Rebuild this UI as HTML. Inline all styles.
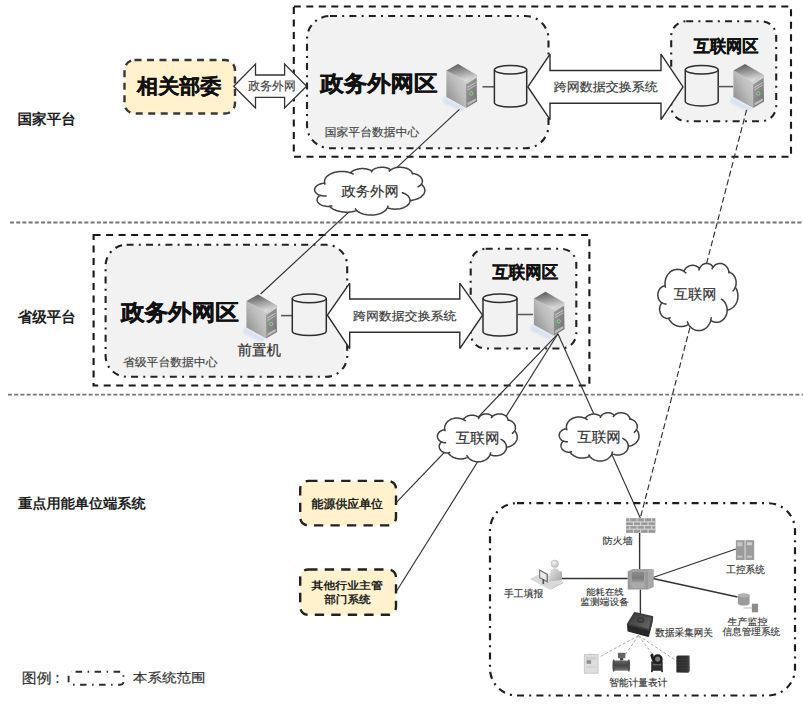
<!DOCTYPE html>
<html><head><meta charset="utf-8"><style>
html,body{margin:0;padding:0;background:#fff;}
svg{display:block;font-family:'Liberation Sans',sans-serif;text-rendering:geometricPrecision;}
text{font-family:'Liberation Sans',sans-serif;}
</style></head><body>
<svg width="803" height="706" viewBox="0 0 803 706">

<defs>
<linearGradient id="gL" x1="0" y1="1" x2="1" y2="0"><stop offset="0" stop-color="#858585"/><stop offset="0.55" stop-color="#bcbcbc"/><stop offset="1" stop-color="#d6d6d6"/></linearGradient>
<linearGradient id="gT" x1="0.3" y1="0" x2="0.6" y2="1"><stop offset="0" stop-color="#5a5a5a"/><stop offset="1" stop-color="#e2e2e2"/></linearGradient>
<linearGradient id="gR" x1="0" y1="0" x2="1" y2="1"><stop offset="0" stop-color="#a2a2a2"/><stop offset="1" stop-color="#6e6e6e"/></linearGradient>
<filter id="blr" x="-20%" y="-20%" width="140%" height="140%"><feGaussianBlur stdDeviation="0.9"/></filter>
<symbol id="srv" overflow="visible">
<polygon points="-2.5,32.5 20,45 15,47.5 -2.5,39" fill="#d8e2f0" filter="url(#blr)"/>
<polygon points="0.4,6.6 20,17.4 20.2,44 0.4,33" fill="url(#gL)"/>
<polygon points="0.4,6.6 12,0 30.6,10.8 20,17.4" fill="url(#gT)"/>
<polygon points="20,17.4 30.6,10.8 31,37.5 20.2,44" fill="url(#gR)"/>
<polygon points="20,17.4 30.6,10.8 30.7,13.8 20.1,20.4" fill="#d2d2d2"/>
<line x1="21.5" y1="23.5" x2="29.6" y2="18.6" stroke="#c4c4c4" stroke-width="1.1"/>
<line x1="21.5" y1="26" x2="29.6" y2="21.1" stroke="#bdbdbd" stroke-width="1.1"/>
<circle cx="25.3" cy="29.5" r="1.6" fill="#4aa04a" stroke="#cfe0cf" stroke-width="0.6"/>
<polygon points="21.5,39 29.8,34.2 29.8,36.8 21.5,41.6" fill="#bdbdbd"/>
</symbol>
<symbol id="fw" overflow="visible">
<rect x="0" y="0" width="29.3" height="14.7" fill="#9a9a9a"/>
<g stroke="#eee" stroke-width="0.8">
<line x1="0" y1="3.7" x2="29.3" y2="3.7"/><line x1="0" y1="7.35" x2="29.3" y2="7.35"/><line x1="0" y1="11" x2="29.3" y2="11"/>
<line x1="3.7" y1="0" x2="3.7" y2="3.7"/><line x1="11" y1="0" x2="11" y2="3.7"/><line x1="18.3" y1="0" x2="18.3" y2="3.7"/><line x1="25.6" y1="0" x2="25.6" y2="3.7"/>
<line x1="7.3" y1="3.7" x2="7.3" y2="7.35"/><line x1="14.6" y1="3.7" x2="14.6" y2="7.35"/><line x1="22" y1="3.7" x2="22" y2="7.35"/>
<line x1="3.7" y1="7.35" x2="3.7" y2="11"/><line x1="11" y1="7.35" x2="11" y2="11"/><line x1="18.3" y1="7.35" x2="18.3" y2="11"/><line x1="25.6" y1="7.35" x2="25.6" y2="11"/>
<line x1="7.3" y1="11" x2="7.3" y2="14.7"/><line x1="14.6" y1="11" x2="14.6" y2="14.7"/><line x1="22" y1="11" x2="22" y2="14.7"/>
</g>
</symbol>
<symbol id="dev" overflow="visible">
<linearGradient id="devP" x1="0" y1="0" x2="0" y2="1"><stop offset="0" stop-color="#8a8a8a"/><stop offset="0.6" stop-color="#7c7c7c"/><stop offset="1" stop-color="#9a9a9a"/></linearGradient>
<polygon points="0,2.2 5,0 26,0 20.3,2.2" fill="#a2a2a2"/>
<polygon points="20.3,2.2 26,0 26,18 20.3,20.5" fill="#a8a8a8"/>
<rect x="0" y="2.2" width="20.3" height="18.3" fill="#999"/>
<rect x="2.5" y="2.2" width="15.3" height="17" fill="#a3a3a3"/>
<rect x="4" y="3" width="12.3" height="10" fill="url(#devP)"/>
<rect x="4" y="13.5" width="12.3" height="5.5" fill="#aaa"/>
</symbol>
<symbol id="person" overflow="visible">
<radialGradient id="pH" cx="0.4" cy="0.35" r="0.7"><stop offset="0" stop-color="#f4f4f4"/><stop offset="1" stop-color="#b8b8b8"/></radialGradient>
<linearGradient id="pB" x1="0" y1="0" x2="1" y2="1"><stop offset="0" stop-color="#e6e6e6"/><stop offset="1" stop-color="#a8a8a8"/></linearGradient>
<polygon points="0.5,18.4 12.4,12.8 33.3,22.1 20.6,28.9" fill="#d9d9d9"/>
<polygon points="0.5,18.4 20.6,28.9 20.6,29.8 0.5,19.2" fill="#c4c4c4"/>
<polygon points="20.6,28.9 33.3,22.1 33.3,23 20.6,29.8" fill="#bdbdbd"/>
<rect x="29.4" y="11.5" width="2.6" height="9" fill="#b4b4b4"/>
<path d="M19.5,21.4 L19.5,14.7 Q20,9.3 24.75,7.9 Q29.6,8.8 30.7,14.7 L30.7,19.9 Z" fill="url(#pB)"/>
<circle cx="24.75" cy="3.8" r="3.7" fill="url(#pH)" stroke="#b0b0b0" stroke-width="0.5"/>
<polygon points="9.06,9.06 18,13.9 18,22.9 9.06,18" fill="#7e7e7e"/>
<polygon points="10.2,11.3 16.5,14.7 16.5,20.6 10.2,17.3" fill="#eaeaea"/>
<rect x="12.5" y="19" width="1.6" height="5" fill="#555"/>
</symbol>
<symbol id="rack" overflow="visible">
<rect x="0" y="0" width="8.8" height="19.8" fill="#9c9c9c"/>
<rect x="9.5" y="0" width="8.8" height="19.8" fill="#9c9c9c"/>
<rect x="1.5" y="2" width="5" height="4" fill="#c8c8c8"/>
<rect x="11" y="2" width="5" height="3" fill="#d0d0d0"/>
<rect x="1.5" y="15.5" width="5" height="2" fill="#c8c8c8"/>
<rect x="11" y="15.5" width="5" height="2" fill="#c8c8c8"/>
</symbol>
<symbol id="dbi" overflow="visible">
<path d="M0,2 L0,10 A5.85,2 0 0 0 11.7,10 L11.7,2 A5.85,2 0 0 0 0,2 Z" fill="#9a9a9a"/>
<ellipse cx="5.85" cy="2" rx="5.85" ry="2" fill="#b0b0b0"/>
<line x1="5.7" y1="14.5" x2="14" y2="14.5" stroke="#aaa" stroke-width="0.8"/>
<rect x="14" y="10.2" width="6.1" height="8.6" fill="#8c8c8c"/>
</symbol>
<symbol id="gw" overflow="visible">
<linearGradient id="gwT" x1="0" y1="0" x2="1" y2="1"><stop offset="0" stop-color="#333"/><stop offset="1" stop-color="#6e6e6e"/></linearGradient>
<polygon points="0.3,11.8 0.8,18.5 21,23.9 24.6,10 25,4.4 22.2,17.4" fill="#262626" stroke="#262626" stroke-width="1.2" stroke-linejoin="round"/>
<polygon points="7.4,0.6 25,4.6 22.2,17.4 0.5,11.8" fill="url(#gwT)" stroke="#3e3e3e" stroke-width="2" stroke-linejoin="round"/>
<ellipse cx="13.4" cy="7.5" rx="3.3" ry="2.3" fill="#4a4a4a" stroke="#2a2a2a" stroke-width="0.9"/>
</symbol>
<symbol id="m1" overflow="visible">
<rect x="4.8" y="0" width="2.4" height="1.5" fill="#c4c4c4"/>
<rect x="0.3" y="1" width="13.8" height="18.6" fill="#dedede" stroke="#c2c2c2" stroke-width="0.8"/>
<rect x="2" y="3.3" width="10.2" height="3" fill="#cfcfcf"/>
<rect x="2.6" y="6.6" width="4.5" height="3.6" fill="#8e8e8e"/>
<rect x="2" y="13" width="10.2" height="0.8" fill="#c8c8c8"/>
</symbol>
<symbol id="m2" overflow="visible">
<linearGradient id="m2g" x1="0" y1="0" x2="0" y2="1"><stop offset="0" stop-color="#666"/><stop offset="0.5" stop-color="#444"/><stop offset="1" stop-color="#777"/></linearGradient>
<rect x="5.6" y="0.3" width="7.4" height="5.4" fill="#666"/>
<rect x="7.6" y="5.6" width="3.2" height="2.4" fill="#3e3e3e"/>
<rect x="1" y="8" width="16" height="10.2" fill="url(#m2g)"/>
<ellipse cx="1.3" cy="13" rx="1.3" ry="6.3" fill="#4e4e4e"/>
<ellipse cx="16.4" cy="13" rx="1.3" ry="6.3" fill="#4e4e4e"/>
</symbol>
<symbol id="m3" overflow="visible">
<rect x="1.5" y="8.5" width="11.5" height="9.5" fill="#2e2e2e"/>
<rect x="1.3" y="17" width="1.8" height="2.3" fill="#333"/>
<rect x="11.5" y="17" width="1.8" height="2.3" fill="#333"/>
<rect x="3" y="11" width="8.5" height="1.5" fill="#666"/>
<circle cx="8" cy="6.5" r="5" fill="#1e1e1e"/>
<circle cx="8" cy="6.3" r="2.6" fill="#7a7a7a"/>
<path d="M0.6,2.2 Q2,-0.3 3.6,1.2 L4.5,7 L2.5,8.5 Z" fill="#1e1e1e"/>
</symbol>
<symbol id="m4" overflow="visible">
<linearGradient id="m4g" x1="0" y1="0" x2="1" y2="0"><stop offset="0" stop-color="#2a2a2a"/><stop offset="0.8" stop-color="#333"/><stop offset="1" stop-color="#555"/></linearGradient>
<polygon points="0,1.3 1.5,0.3 13.2,0.3 13.4,15.8 12,17.4 0,17.1" fill="url(#m4g)"/>
<g stroke="#444" stroke-width="0.5"><line x1="1" y1="4" x2="11.5" y2="4"/><line x1="1" y1="7" x2="11.5" y2="7"/><line x1="1" y1="10" x2="11.5" y2="10"/><line x1="1" y1="13" x2="11.5" y2="13"/></g>
</symbol>
</defs>

<line x1="10" y1="222.5" x2="803" y2="222.5" stroke="#777" stroke-width="1.8" stroke-dasharray="4 2.2"/>
<line x1="8" y1="394.6" x2="803" y2="394.6" stroke="#777" stroke-width="1.8" stroke-dasharray="4 2.2"/>
<text id="t0" x="18" y="125" font-size="14" font-weight="bold" fill="#1e1e1e" stroke="#1e1e1e" stroke-width="0" text-anchor="start" transform="matrix(1.0428,0,0,1.0320,-1.281,-5.149)" >国家平台</text>
<text id="t1" x="18" y="323" font-size="14" font-weight="bold" fill="#1e1e1e" stroke="#1e1e1e" stroke-width="0" text-anchor="start" transform="matrix(1.0362,0,0,1.0677,-0.865,-22.654)" >省级平台</text>
<text id="t2" x="18" y="509.5" font-size="14" font-weight="bold" fill="#1e1e1e" stroke="#1e1e1e" stroke-width="0" text-anchor="start" transform="matrix(1.0110,0,0,0.9680,0.013,14.970)" >重点用能单位端系统</text>
<rect x="293.8" y="6.5" width="497.2" height="150.3" fill="none" stroke="#1a1a1a" stroke-width="2.1" stroke-dasharray="7 5.5"/>
<rect x="307" y="16" width="241.5" height="132.3" rx="23" fill="#f2f2f2" stroke="#222" stroke-width="2.1" stroke-dasharray="7 5.2 2 5.2"/>
<rect x="671.2" y="21.2" width="105" height="100" rx="15" fill="#f2f2f2" stroke="#222" stroke-width="2.1" stroke-dasharray="7 5.2 2 5.2"/>
<rect x="124.5" y="60" width="110.5" height="53.5" rx="10" fill="#fff2cc" stroke="#383838" stroke-width="2.4" stroke-dasharray="7 5.5"/>
<text id="t3" x="179.5" y="94" font-size="21" font-weight="bold" fill="#111" stroke="#111" stroke-width="0.378" text-anchor="middle" transform="matrix(1.0010,0,0,0.9534,-0.523,3.429)" >相关部委</text>
<path d="M233.8,86.3 L255.5,64.1 L255.5,75 L284.6,75 L284.6,64.1 L306.6,86.3 L284.6,108 L284.6,97.3 L255.5,97.3 L255.5,108 Z" fill="#fff" stroke="#333" stroke-width="1.3"/>
<text id="t4" x="272" y="91.5" font-size="11.5" font-weight="normal" fill="#444" stroke="#444" stroke-width="0.161" text-anchor="middle" transform="matrix(1.0312,0,0,1.0512,-8.448,-5.933)" >政务外网</text>
<text id="t5" x="320.5" y="94" font-size="23.4" font-weight="bold" fill="#111" stroke="#111" stroke-width="0.421" text-anchor="start" transform="matrix(1.0041,0,0,0.9385,-1.650,2.984)" >政务外网区</text>
<text id="t6" x="325" y="137" font-size="11.5" font-weight="normal" fill="#444" stroke="#444" stroke-width="0.161" text-anchor="start" transform="matrix(1.0291,0,0,0.9928,-9.781,0.025)" >国家平台数据中心</text>
<use href="#srv" transform="translate(446,64) scale(1.0)"/>
<line x1="482.5" y1="86.8" x2="494.4" y2="86.8" stroke="#555" stroke-width="1.5"/>
<path d="M494.4,69.7 L494.4,102.7 A16.15,4.3 0 0 0 526.6999999999999,102.7 L526.6999999999999,69.7" fill="none" stroke="#2e2e2e" stroke-width="1.5"/>
<ellipse cx="510.54999999999995" cy="69.7" rx="16.15" ry="4.3" fill="none" stroke="#2e2e2e" stroke-width="1.5"/>
<path d="M527.9,86.9 L550,54.1 L550,70.5 L661,70.5 L661,54.1 L683,86.9 L661,119.7 L661,103.3 L550,103.3 L550,119.7 Z" fill="#fff" stroke="#2e2e2e" stroke-width="1.4" stroke-linejoin="miter" stroke-miterlimit="1.5"/>
<text id="t7" x="606.2" y="91.5" font-size="13" font-weight="normal" fill="#3a3a3a" stroke="#3a3a3a" stroke-width="0.182" text-anchor="middle" transform="matrix(1.0013,0,0,0.9373,-1.275,5.014)" >跨网数据交换系统</text>
<text id="t8" x="726" y="53" font-size="16.5" font-weight="bold" fill="#111" stroke="#111" stroke-width="0.297" text-anchor="middle" transform="matrix(0.9844,0,0,1.0475,11.449,-3.343)" >互联网区</text>
<path d="M685.3,69.7 L685.3,101.60000000000001 A16.45,4.3 0 0 0 718.1999999999999,101.60000000000001 L718.1999999999999,69.7" fill="none" stroke="#2e2e2e" stroke-width="1.5"/>
<ellipse cx="701.75" cy="69.7" rx="16.45" ry="4.3" fill="none" stroke="#2e2e2e" stroke-width="1.5"/>
<line x1="718.2" y1="86.6" x2="733" y2="86.6" stroke="#555" stroke-width="1.5"/>
<use href="#srv" transform="translate(733,64) scale(1.0)"/>
<rect x="93.6" y="235" width="495.8" height="150.5" fill="none" stroke="#1a1a1a" stroke-width="2.1" stroke-dasharray="7 5.5"/>
<rect x="105.6" y="244.8" width="241.6" height="131.9" rx="21" fill="#f2f2f2" stroke="#222" stroke-width="2.1" stroke-dasharray="7 5.2 2 5.2"/>
<rect x="470.7" y="248.8" width="105.6" height="99.7" rx="15" fill="#f2f2f2" stroke="#222" stroke-width="2.1" stroke-dasharray="7 5.2 2 5.2"/>
<text id="t9" x="120.8" y="321.6" font-size="23.4" font-weight="bold" fill="#111" stroke="#111" stroke-width="0.421" text-anchor="start" transform="matrix(1.0075,0,0,0.9564,-0.741,11.944)" >政务外网区</text>
<text id="t10" x="123.5" y="365.5" font-size="11.3" font-weight="normal" fill="#444" stroke="#444" stroke-width="0.158" text-anchor="start" transform="matrix(1.0482,0,0,1.0082,-6.552,-2.955)" >省级平台数据中心</text>
<use href="#srv" transform="translate(246,294.5) scale(1.0)"/>
<text id="t11" x="259.5" y="355" font-size="14" font-weight="normal" fill="#333" stroke="#333" stroke-width="0.196" text-anchor="middle" transform="matrix(1.0381,0,0,1.0209,-10.183,-7.608)" >前置机</text>
<line x1="281" y1="315.6" x2="292.3" y2="315.6" stroke="#555" stroke-width="1.5"/>
<path d="M292.3,298.40000000000003 L292.3,331.3 A17.0,4.3 0 0 0 326.3,331.3 L326.3,298.40000000000003" fill="none" stroke="#2e2e2e" stroke-width="1.5"/>
<ellipse cx="309.3" cy="298.40000000000003" rx="17.0" ry="4.3" fill="none" stroke="#2e2e2e" stroke-width="1.5"/>
<path d="M327.4,315.2 L349.7,283.2 L349.7,299 L459.8,299 L459.8,283.2 L482.5,315.2 L459.8,348.6 L459.8,332.2 L349.7,332.2 L349.7,348.6 Z" fill="#fff" stroke="#2e2e2e" stroke-width="1.4" stroke-linejoin="miter" stroke-miterlimit="1.5"/>
<text id="t12" x="405.3" y="320.5" font-size="13" font-weight="normal" fill="#3a3a3a" stroke="#3a3a3a" stroke-width="0.182" text-anchor="middle" transform="matrix(0.9959,0,0,0.9046,1.093,29.607)" >跨网数据交换系统</text>
<text id="t13" x="525.2" y="280" font-size="16.5" font-weight="bold" fill="#111" stroke="#111" stroke-width="0.297" text-anchor="middle" transform="matrix(0.9935,0,0,1.0449,3.489,-14.625)" >互联网区</text>
<path d="M483,298.3 L483,331.7 A17.0,4.3 0 0 0 517,331.7 L517,298.3" fill="none" stroke="#2e2e2e" stroke-width="1.5"/>
<ellipse cx="500.0" cy="298.3" rx="17.0" ry="4.3" fill="none" stroke="#2e2e2e" stroke-width="1.5"/>
<line x1="517" y1="314.5" x2="533" y2="314.5" stroke="#555" stroke-width="1.5"/>
<use href="#srv" transform="translate(533.5,291.8) scale(1.0)"/>
<line x1="459.5" y1="109.3" x2="260.6" y2="294" stroke="#333" stroke-width="1.15"/>
<line x1="746.6" y1="109.8" x2="640.3" y2="518" stroke="#333" stroke-width="1.15" stroke-dasharray="6 3"/>
<line x1="557.9" y1="333.8" x2="396" y2="502.8" stroke="#333" stroke-width="1.15"/>
<line x1="557.9" y1="333.8" x2="396" y2="592" stroke="#333" stroke-width="1.15"/>
<line x1="557.9" y1="333.8" x2="640.3" y2="518" stroke="#333" stroke-width="1.15"/>
<path d="M324.6,183.0 L324.5,182.1 L324.5,181.1 L324.7,180.2 L325.0,179.2 L325.4,178.3 L326.0,177.4 L326.7,176.6 L327.6,175.8 L328.6,175.1 L329.7,174.4 L330.9,173.7 L332.1,173.2 L333.5,172.7 L335.0,172.3 L336.5,171.9 L338.0,171.7 L339.6,171.5 L341.2,171.5 L342.8,171.5 L344.4,171.6 L346.0,171.8 L347.5,172.1 L349.0,172.4 L350.4,172.9 L350.9,172.3 L351.5,171.8 L352.2,171.3 L352.9,170.9 L353.7,170.5 L354.5,170.1 L355.4,169.7 L356.3,169.4 L357.3,169.2 L358.3,169.0 L359.3,168.8 L360.3,168.7 L361.4,168.6 L362.4,168.6 L363.5,168.6 L364.5,168.7 L365.6,168.8 L366.6,169.0 L367.6,169.2 L368.5,169.4 L369.4,169.8 L370.3,170.1 L371.2,170.5 L371.9,170.9 L372.4,170.4 L372.9,169.9 L373.5,169.5 L374.1,169.1 L374.8,168.7 L375.6,168.4 L376.4,168.1 L377.2,167.9 L378.1,167.6 L379.0,167.5 L379.9,167.4 L380.8,167.3 L381.8,167.3 L382.7,167.3 L383.6,167.3 L384.6,167.4 L385.5,167.6 L386.3,167.8 L387.2,168.1 L388.0,168.3 L388.8,168.7 L389.5,169.0 L390.1,169.4 L390.7,169.8 L391.5,169.3 L392.4,168.9 L393.3,168.5 L394.3,168.1 L395.4,167.8 L396.5,167.6 L397.6,167.4 L398.8,167.3 L399.9,167.3 L401.1,167.3 L402.2,167.4 L403.4,167.5 L404.5,167.7 L405.6,168.0 L406.6,168.3 L407.6,168.7 L408.5,169.1 L409.3,169.6 L410.0,170.2 L410.7,170.7 L411.3,171.3 L411.7,171.9 L412.1,172.6 L412.4,173.3 L413.3,173.4 L414.2,173.6 L415.1,173.9 L415.9,174.2 L416.7,174.5 L417.5,174.8 L418.2,175.2 L418.9,175.6 L419.5,176.1 L420.1,176.5 L420.6,177.0 L421.0,177.5 L421.4,178.1 L421.7,178.6 L422.0,179.2 L422.2,179.7 L422.3,180.3 L422.4,180.9 L422.4,181.4 L422.3,182.0 L422.1,182.6 L421.9,183.1 L421.6,183.7 L421.3,184.2 L422.1,184.9 L422.9,185.7 L423.5,186.5 L424.0,187.3 L424.4,188.2 L424.7,189.1 L424.8,189.9 L424.8,190.8 L424.7,191.7 L424.5,192.6 L424.1,193.4 L423.6,194.3 L423.0,195.1 L422.2,195.8 L421.4,196.6 L420.4,197.3 L419.4,197.9 L418.2,198.5 L417.0,199.0 L415.7,199.4 L414.3,199.8 L412.9,200.1 L411.5,200.4 L410.0,200.5 L410.0,201.3 L409.8,202.0 L409.5,202.8 L409.1,203.5 L408.6,204.2 L407.9,204.9 L407.2,205.6 L406.4,206.2 L405.5,206.7 L404.5,207.2 L403.5,207.7 L402.4,208.1 L401.2,208.4 L400.0,208.7 L398.8,208.9 L397.5,209.1 L396.2,209.1 L394.9,209.2 L393.6,209.1 L392.3,209.0 L391.0,208.8 L389.8,208.5 L388.6,208.2 L387.5,207.8 L386.9,208.7 L386.3,209.6 L385.4,210.4 L384.5,211.2 L383.4,211.9 L382.3,212.6 L381.0,213.2 L379.6,213.7 L378.2,214.1 L376.7,214.5 L375.1,214.8 L373.5,215.0 L371.9,215.1 L370.3,215.1 L368.7,215.0 L367.1,214.8 L365.5,214.5 L364.0,214.2 L362.6,213.8 L361.2,213.3 L359.9,212.7 L358.7,212.0 L357.7,211.3 L356.7,210.5 L355.6,210.9 L354.4,211.3 L353.2,211.5 L351.9,211.8 L350.7,212.0 L349.4,212.1 L348.1,212.2 L346.8,212.2 L345.5,212.2 L344.2,212.1 L342.9,212.0 L341.6,211.8 L340.4,211.6 L339.1,211.3 L337.9,211.0 L336.8,210.7 L335.7,210.3 L334.6,209.8 L333.6,209.3 L332.7,208.8 L331.8,208.2 L330.9,207.6 L330.2,207.0 L329.5,206.3 L328.4,206.4 L327.2,206.4 L326.1,206.3 L325.0,206.1 L324.0,205.9 L322.9,205.6 L322.0,205.3 L321.1,204.9 L320.2,204.4 L319.5,203.9 L318.8,203.4 L318.3,202.8 L317.8,202.2 L317.5,201.6 L317.2,200.9 L317.1,200.2 L317.1,199.6 L317.2,198.9 L317.4,198.3 L317.7,197.6 L318.2,197.0 L318.7,196.4 L319.4,195.9 L320.1,195.4 L319.1,195.0 L318.2,194.6 L317.4,194.1 L316.7,193.5 L316.1,193.0 L315.5,192.3 L315.1,191.7 L314.8,191.0 L314.7,190.3 L314.6,189.7 L314.7,189.0 L314.9,188.3 L315.2,187.6 L315.6,187.0 L316.1,186.4 L316.7,185.8 L317.5,185.3 L318.3,184.8 L319.2,184.4 L320.2,184.0 L321.2,183.7 L322.3,183.4 L323.4,183.3 L324.5,183.1Z" fill="#fff" stroke="#404040" stroke-width="1.5"/>
<path d="M326.7,196.1 L326.0,196.1 L325.3,196.1 L324.6,196.0 L324.0,196.0 L323.3,195.9 L322.7,195.8 L322.0,195.7 L321.4,195.5 L320.8,195.4 L320.2,195.2M332.4,205.7 L332.1,205.8 L331.8,205.8 L331.5,205.9 L331.3,205.9 L331.0,206.0 L330.7,206.0 L330.4,206.1 L330.1,206.1 L329.8,206.1 L329.5,206.1M356.7,210.4 L356.5,210.2 L356.3,210.0 L356.1,209.8 L355.9,209.6 L355.8,209.4 L355.6,209.2 L355.4,209.0 L355.3,208.8 L355.1,208.6 L355.0,208.4M388.2,205.6 L388.1,205.8 L388.1,206.0 L388.0,206.2 L388.0,206.4 L387.9,206.6 L387.9,206.8 L387.8,207.0 L387.7,207.2 L387.6,207.5 L387.5,207.7M401.7,192.5 L403.1,193.0 L404.5,193.5 L405.7,194.2 L406.8,194.9 L407.8,195.7 L408.6,196.6 L409.2,197.5 L409.6,198.4 L409.9,199.4 L410.0,200.4M421.2,184.1 L421.0,184.4 L420.7,184.8 L420.4,185.1 L420.0,185.4 L419.7,185.7 L419.3,186.0 L418.9,186.3 L418.5,186.5 L418.0,186.8 L417.5,187.0M412.4,173.1 L412.4,173.2 L412.4,173.4 L412.5,173.5 L412.5,173.7 L412.5,173.8 L412.5,173.9 L412.6,174.1 L412.6,174.2 L412.6,174.4 L412.6,174.5M388.8,171.5 L389.0,171.3 L389.1,171.1 L389.3,170.9 L389.5,170.7 L389.6,170.5 L389.8,170.4 L390.0,170.2 L390.3,170.0 L390.5,169.9 L390.7,169.7M371.1,172.3 L371.2,172.2 L371.3,172.0 L371.3,171.8 L371.4,171.7 L371.5,171.5 L371.6,171.4 L371.7,171.2 L371.8,171.1 L371.9,170.9 L372.0,170.8M350.4,172.8 L350.7,173.0 L351.1,173.1 L351.4,173.2 L351.8,173.4 L352.1,173.5 L352.4,173.7 L352.8,173.8 L353.1,174.0 L353.4,174.2 L353.7,174.3M325.2,184.6 L325.1,184.4 L325.1,184.3 L325.0,184.1 L324.9,183.9 L324.9,183.8 L324.8,183.6 L324.8,183.5 L324.7,183.3 L324.7,183.2 L324.6,183.0" fill="none" stroke="#404040" stroke-width="1.5"/>
<text id="t14" x="370" y="197" font-size="14" font-weight="normal" fill="#333" stroke="#333" stroke-width="0.196" text-anchor="middle" transform="matrix(1.0238,0,0,0.9920,-8.763,0.744)" >政务外网</text>
<path d="M665.1,285.6 L665.0,284.2 L665.0,282.9 L665.1,281.6 L665.4,280.3 L665.7,279.0 L666.1,277.7 L666.6,276.6 L667.3,275.4 L668.0,274.4 L668.8,273.4 L669.6,272.5 L670.6,271.7 L671.6,271.0 L672.6,270.5 L673.7,270.0 L674.8,269.7 L676.0,269.4 L677.2,269.3 L678.3,269.4 L679.5,269.5 L680.6,269.8 L681.7,270.2 L682.8,270.7 L683.8,271.3 L684.2,270.5 L684.7,269.8 L685.1,269.1 L685.7,268.5 L686.2,267.9 L686.8,267.4 L687.5,266.9 L688.2,266.5 L688.8,266.1 L689.6,265.8 L690.3,265.6 L691.1,265.4 L691.8,265.3 L692.6,265.3 L693.3,265.3 L694.1,265.4 L694.9,265.6 L695.6,265.8 L696.3,266.1 L697.0,266.5 L697.7,266.9 L698.3,267.4 L698.9,267.9 L699.5,268.5 L699.8,267.9 L700.2,267.2 L700.6,266.6 L701.1,266.0 L701.6,265.5 L702.1,265.0 L702.7,264.6 L703.3,264.3 L704.0,264.0 L704.6,263.7 L705.3,263.6 L706.0,263.5 L706.6,263.4 L707.3,263.4 L708.0,263.5 L708.7,263.7 L709.3,263.9 L710.0,264.2 L710.6,264.5 L711.2,264.9 L711.7,265.4 L712.2,265.9 L712.7,266.5 L713.1,267.1 L713.7,266.4 L714.4,265.7 L715.0,265.1 L715.8,264.6 L716.5,264.2 L717.3,263.9 L718.1,263.7 L719.0,263.5 L719.8,263.4 L720.7,263.5 L721.5,263.6 L722.3,263.8 L723.1,264.1 L723.9,264.5 L724.7,264.9 L725.4,265.5 L726.0,266.1 L726.6,266.8 L727.2,267.5 L727.7,268.3 L728.1,269.1 L728.4,270.0 L728.7,270.9 L728.9,271.9 L729.5,272.1 L730.2,272.4 L730.8,272.8 L731.4,273.1 L732.0,273.6 L732.6,274.1 L733.1,274.6 L733.6,275.2 L734.0,275.8 L734.5,276.5 L734.8,277.2 L735.2,277.9 L735.4,278.6 L735.7,279.4 L735.9,280.1 L736.0,280.9 L736.1,281.7 L736.1,282.5 L736.1,283.3 L736.1,284.1 L736.0,284.9 L735.8,285.7 L735.6,286.5 L735.3,287.2 L736.0,288.3 L736.5,289.3 L737.0,290.5 L737.3,291.6 L737.6,292.8 L737.8,294.1 L737.9,295.3 L737.9,296.6 L737.8,297.8 L737.7,299.0 L737.4,300.2 L737.0,301.4 L736.6,302.5 L736.0,303.6 L735.4,304.6 L734.7,305.6 L733.9,306.5 L733.1,307.3 L732.2,308.0 L731.3,308.6 L730.3,309.2 L729.3,309.6 L728.2,310.0 L727.2,310.2 L727.1,311.3 L727.0,312.3 L726.8,313.4 L726.5,314.4 L726.1,315.4 L725.7,316.4 L725.1,317.3 L724.5,318.1 L723.9,318.9 L723.2,319.6 L722.4,320.2 L721.6,320.8 L720.8,321.3 L719.9,321.7 L719.0,322.0 L718.0,322.2 L717.1,322.3 L716.2,322.3 L715.2,322.2 L714.3,322.1 L713.4,321.8 L712.5,321.4 L711.6,321.0 L710.8,320.5 L710.4,321.7 L709.9,323.0 L709.3,324.1 L708.6,325.2 L707.8,326.2 L707.0,327.2 L706.1,328.0 L705.1,328.7 L704.0,329.3 L702.9,329.8 L701.8,330.2 L700.7,330.5 L699.5,330.6 L698.3,330.6 L697.1,330.5 L696.0,330.3 L694.8,329.9 L693.8,329.4 L692.7,328.8 L691.7,328.1 L690.8,327.3 L689.9,326.4 L689.1,325.4 L688.4,324.3 L687.6,324.8 L686.7,325.3 L685.9,325.7 L684.9,326.0 L684.0,326.3 L683.1,326.5 L682.2,326.6 L681.2,326.6 L680.3,326.6 L679.3,326.5 L678.4,326.3 L677.5,326.1 L676.5,325.8 L675.7,325.4 L674.8,325.0 L674.0,324.5 L673.1,323.9 L672.4,323.3 L671.6,322.6 L670.9,321.8 L670.3,321.0 L669.7,320.2 L669.1,319.3 L668.6,318.4 L667.8,318.4 L667.0,318.4 L666.2,318.3 L665.4,318.1 L664.6,317.7 L663.9,317.3 L663.2,316.9 L662.5,316.3 L661.9,315.7 L661.4,315.0 L660.9,314.2 L660.5,313.4 L660.2,312.5 L659.9,311.6 L659.7,310.7 L659.6,309.8 L659.6,308.9 L659.7,307.9 L659.9,307.0 L660.1,306.1 L660.4,305.3 L660.8,304.4 L661.3,303.7 L661.8,302.9 L661.1,302.4 L660.5,301.8 L659.9,301.1 L659.3,300.4 L658.9,299.5 L658.5,298.7 L658.2,297.8 L658.0,296.8 L657.9,295.9 L657.8,294.9 L657.9,294.0 L658.0,293.0 L658.2,292.1 L658.5,291.2 L658.9,290.3 L659.4,289.5 L659.9,288.8 L660.5,288.1 L661.2,287.5 L661.9,286.9 L662.6,286.5 L663.4,286.2 L664.2,285.9 L665.1,285.8Z" fill="#fff" stroke="#404040" stroke-width="1.5"/>
<path d="M666.6,303.9 L666.1,303.9 L665.6,303.9 L665.1,303.9 L664.6,303.8 L664.2,303.7 L663.7,303.6 L663.2,303.4 L662.8,303.2 L662.3,302.9 L661.9,302.7M670.7,317.5 L670.5,317.6 L670.3,317.7 L670.1,317.7 L669.9,317.8 L669.7,317.9 L669.5,317.9 L669.3,318.0 L669.1,318.0 L668.9,318.0 L668.7,318.1M688.4,324.0 L688.3,323.8 L688.1,323.5 L688.0,323.2 L687.9,323.0 L687.7,322.7 L687.6,322.4 L687.5,322.1 L687.4,321.9 L687.3,321.6 L687.2,321.3M711.3,317.3 L711.3,317.6 L711.2,317.9 L711.2,318.2 L711.2,318.5 L711.1,318.8 L711.1,319.1 L711.0,319.3 L710.9,319.6 L710.9,319.9 L710.8,320.2M721.1,298.9 L722.2,299.6 L723.1,300.4 L724.0,301.3 L724.8,302.3 L725.5,303.5 L726.1,304.7 L726.5,305.9 L726.9,307.3 L727.1,308.6 L727.1,310.0M735.3,287.1 L735.1,287.6 L734.9,288.0 L734.7,288.5 L734.4,288.9 L734.2,289.3 L733.9,289.8 L733.6,290.2 L733.3,290.5 L733.0,290.9 L732.6,291.2M728.9,271.6 L728.9,271.8 L728.9,272.0 L728.9,272.2 L729.0,272.4 L729.0,272.6 L729.0,272.8 L729.0,273.0 L729.0,273.2 L729.0,273.4 L729.0,273.6M711.7,269.3 L711.9,269.1 L712.0,268.8 L712.1,268.5 L712.2,268.3 L712.4,268.0 L712.5,267.8 L712.6,267.5 L712.8,267.3 L713.0,267.1 L713.1,266.8M698.9,270.5 L698.9,270.3 L699.0,270.1 L699.1,269.9 L699.1,269.7 L699.2,269.4 L699.2,269.2 L699.3,269.0 L699.4,268.8 L699.5,268.6 L699.6,268.4M683.8,271.3 L684.1,271.5 L684.3,271.6 L684.6,271.8 L684.8,272.0 L685.1,272.2 L685.3,272.5 L685.6,272.7 L685.8,272.9 L686.0,273.1 L686.2,273.4M665.5,287.8 L665.5,287.5 L665.4,287.3 L665.4,287.1 L665.3,286.9 L665.3,286.7 L665.3,286.4 L665.2,286.2 L665.2,286.0 L665.2,285.8 L665.1,285.6" fill="none" stroke="#404040" stroke-width="1.5"/>
<text id="t15" x="694.3" y="300" font-size="13.6" font-weight="normal" fill="#333" stroke="#333" stroke-width="0.19" text-anchor="middle" transform="matrix(1.0480,0,0,1.0452,-32.536,-14.226)" >互联网</text>
<path d="M444.7,429.6 L444.6,428.7 L444.6,427.7 L444.7,426.8 L444.9,425.9 L445.3,425.0 L445.7,424.1 L446.2,423.2 L446.8,422.4 L447.5,421.7 L448.3,421.0 L449.2,420.3 L450.1,419.8 L451.1,419.3 L452.2,418.9 L453.3,418.6 L454.4,418.3 L455.5,418.1 L456.7,418.1 L457.8,418.1 L459.0,418.2 L460.1,418.4 L461.2,418.7 L462.3,419.0 L463.3,419.5 L463.7,418.9 L464.2,418.4 L464.6,417.9 L465.2,417.5 L465.7,417.1 L466.3,416.7 L467.0,416.3 L467.6,416.0 L468.3,415.8 L469.0,415.6 L469.8,415.4 L470.5,415.3 L471.3,415.2 L472.1,415.2 L472.8,415.2 L473.6,415.3 L474.3,415.4 L475.1,415.6 L475.8,415.8 L476.5,416.1 L477.1,416.4 L477.8,416.7 L478.4,417.1 L478.9,417.5 L479.3,417.0 L479.6,416.6 L480.1,416.1 L480.5,415.7 L481.0,415.3 L481.6,415.0 L482.2,414.7 L482.8,414.5 L483.4,414.3 L484.0,414.1 L484.7,414.0 L485.4,413.9 L486.1,413.9 L486.7,413.9 L487.4,413.9 L488.1,414.1 L488.7,414.2 L489.4,414.4 L490.0,414.7 L490.6,414.9 L491.1,415.3 L491.6,415.6 L492.1,416.0 L492.5,416.5 L493.1,415.9 L493.7,415.5 L494.4,415.1 L495.1,414.7 L495.9,414.4 L496.7,414.2 L497.5,414.0 L498.4,413.9 L499.2,413.9 L500.0,413.9 L500.9,414.0 L501.7,414.1 L502.5,414.3 L503.3,414.6 L504.0,414.9 L504.7,415.3 L505.4,415.7 L506.0,416.2 L506.5,416.8 L507.0,417.3 L507.4,417.9 L507.7,418.6 L508.0,419.2 L508.2,419.9 L508.9,420.1 L509.5,420.3 L510.1,420.5 L510.8,420.8 L511.3,421.1 L511.9,421.5 L512.4,421.8 L512.9,422.3 L513.4,422.7 L513.8,423.2 L514.1,423.6 L514.5,424.2 L514.8,424.7 L515.0,425.2 L515.2,425.8 L515.3,426.3 L515.4,426.9 L515.4,427.5 L515.4,428.1 L515.4,428.6 L515.3,429.2 L515.1,429.8 L514.9,430.3 L514.7,430.8 L515.3,431.6 L515.8,432.3 L516.3,433.1 L516.7,434.0 L516.9,434.8 L517.1,435.7 L517.2,436.6 L517.2,437.5 L517.1,438.4 L517.0,439.2 L516.7,440.1 L516.3,440.9 L515.9,441.7 L515.3,442.5 L514.7,443.2 L514.0,443.9 L513.3,444.6 L512.4,445.1 L511.5,445.6 L510.6,446.1 L509.6,446.5 L508.6,446.8 L507.6,447.0 L506.5,447.2 L506.5,448.0 L506.3,448.7 L506.1,449.5 L505.8,450.2 L505.4,450.9 L505.0,451.6 L504.5,452.2 L503.9,452.8 L503.2,453.4 L502.5,453.9 L501.8,454.4 L501.0,454.8 L500.1,455.1 L499.2,455.4 L498.3,455.6 L497.4,455.7 L496.5,455.8 L495.5,455.8 L494.6,455.8 L493.7,455.7 L492.8,455.5 L491.9,455.2 L491.0,454.9 L490.2,454.5 L489.8,455.4 L489.3,456.3 L488.7,457.1 L488.0,457.9 L487.3,458.6 L486.4,459.3 L485.5,459.9 L484.5,460.4 L483.5,460.8 L482.4,461.2 L481.2,461.5 L480.1,461.7 L478.9,461.8 L477.8,461.8 L476.6,461.7 L475.4,461.5 L474.3,461.2 L473.2,460.9 L472.2,460.5 L471.2,460.0 L470.2,459.4 L469.4,458.7 L468.6,458.0 L467.9,457.2 L467.1,457.6 L466.2,457.9 L465.3,458.2 L464.4,458.5 L463.5,458.7 L462.6,458.8 L461.7,458.9 L460.7,458.9 L459.8,458.9 L458.8,458.8 L457.9,458.7 L457.0,458.5 L456.1,458.3 L455.2,458.0 L454.3,457.7 L453.5,457.4 L452.7,457.0 L451.9,456.5 L451.2,456.0 L450.5,455.5 L449.9,454.9 L449.3,454.3 L448.7,453.7 L448.2,453.0 L447.4,453.1 L446.6,453.0 L445.8,453.0 L445.0,452.8 L444.2,452.6 L443.5,452.3 L442.8,451.9 L442.1,451.5 L441.5,451.1 L441.0,450.6 L440.5,450.0 L440.1,449.5 L439.8,448.9 L439.5,448.2 L439.3,447.6 L439.2,446.9 L439.2,446.2 L439.3,445.6 L439.5,444.9 L439.7,444.3 L440.0,443.7 L440.4,443.1 L440.9,442.5 L441.4,442.0 L440.7,441.6 L440.1,441.2 L439.5,440.7 L438.9,440.2 L438.5,439.6 L438.1,439.0 L437.8,438.3 L437.6,437.7 L437.5,437.0 L437.4,436.3 L437.5,435.6 L437.6,434.9 L437.8,434.3 L438.1,433.6 L438.5,433.0 L439.0,432.4 L439.5,431.9 L440.1,431.4 L440.8,431.0 L441.5,430.6 L442.2,430.3 L443.0,430.1 L443.8,429.9 L444.6,429.8Z" fill="#fff" stroke="#404040" stroke-width="1.5"/>
<path d="M446.2,442.7 L445.7,442.7 L445.2,442.7 L444.7,442.7 L444.2,442.7 L443.7,442.6 L443.3,442.5 L442.8,442.4 L442.4,442.2 L441.9,442.0 L441.5,441.8M450.3,452.4 L450.1,452.5 L449.9,452.5 L449.7,452.6 L449.5,452.6 L449.3,452.7 L449.1,452.7 L448.9,452.7 L448.7,452.8 L448.4,452.8 L448.2,452.8M467.9,457.0 L467.8,456.9 L467.6,456.7 L467.5,456.5 L467.3,456.3 L467.2,456.1 L467.1,455.9 L467.0,455.7 L466.9,455.5 L466.8,455.3 L466.7,455.1M490.7,452.2 L490.7,452.4 L490.6,452.7 L490.6,452.9 L490.6,453.1 L490.5,453.3 L490.5,453.5 L490.4,453.7 L490.3,453.9 L490.3,454.1 L490.2,454.3M500.5,439.2 L501.5,439.6 L502.5,440.2 L503.4,440.9 L504.2,441.6 L504.9,442.4 L505.4,443.3 L505.9,444.2 L506.2,445.1 L506.4,446.1 L506.5,447.1M514.6,430.7 L514.4,431.1 L514.2,431.4 L514.0,431.7 L513.7,432.0 L513.5,432.3 L513.2,432.6 L512.9,432.9 L512.6,433.2 L512.3,433.4 L511.9,433.7M508.2,419.7 L508.2,419.9 L508.3,420.0 L508.3,420.1 L508.3,420.3 L508.3,420.4 L508.3,420.6 L508.3,420.7 L508.3,420.8 L508.3,421.0 L508.3,421.1M491.1,418.1 L491.3,417.9 L491.4,417.7 L491.5,417.5 L491.6,417.3 L491.8,417.1 L491.9,417.0 L492.0,416.8 L492.2,416.6 L492.3,416.5 L492.5,416.3M478.3,418.9 L478.4,418.8 L478.4,418.6 L478.5,418.5 L478.6,418.3 L478.6,418.1 L478.7,418.0 L478.8,417.8 L478.8,417.7 L478.9,417.5 L479.0,417.4M463.3,419.5 L463.6,419.6 L463.8,419.7 L464.1,419.9 L464.3,420.0 L464.6,420.1 L464.8,420.3 L465.1,420.5 L465.3,420.6 L465.5,420.8 L465.7,421.0M445.1,431.2 L445.1,431.1 L445.0,430.9 L445.0,430.7 L444.9,430.6 L444.9,430.4 L444.8,430.3 L444.8,430.1 L444.8,430.0 L444.7,429.8 L444.7,429.6" fill="none" stroke="#404040" stroke-width="1.5"/>
<text id="t16" x="477.2" y="443" font-size="14" font-weight="normal" fill="#333" stroke="#333" stroke-width="0.196" text-anchor="middle" transform="matrix(1.0471,0,0,1.0467,-21.971,-21.180)" >互联网</text>
<path d="M566.5,428.6 L566.4,427.7 L566.4,426.7 L566.5,425.8 L566.7,424.8 L567.1,423.9 L567.5,423.0 L568.0,422.2 L568.6,421.4 L569.3,420.6 L570.1,419.9 L571.0,419.3 L571.9,418.7 L572.9,418.2 L574.0,417.8 L575.1,417.5 L576.2,417.2 L577.3,417.1 L578.5,417.0 L579.6,417.0 L580.8,417.1 L581.9,417.3 L583.0,417.6 L584.1,418.0 L585.1,418.4 L585.5,417.9 L586.0,417.3 L586.4,416.9 L587.0,416.4 L587.5,416.0 L588.1,415.6 L588.8,415.3 L589.4,415.0 L590.1,414.7 L590.8,414.5 L591.6,414.3 L592.3,414.2 L593.1,414.1 L593.9,414.1 L594.6,414.1 L595.4,414.2 L596.1,414.3 L596.9,414.5 L597.6,414.7 L598.3,415.0 L598.9,415.3 L599.6,415.6 L600.2,416.0 L600.7,416.4 L601.1,415.9 L601.4,415.5 L601.9,415.0 L602.3,414.6 L602.8,414.3 L603.4,413.9 L604.0,413.6 L604.6,413.4 L605.2,413.2 L605.8,413.0 L606.5,412.9 L607.2,412.8 L607.9,412.8 L608.5,412.8 L609.2,412.8 L609.9,413.0 L610.5,413.1 L611.2,413.3 L611.8,413.6 L612.4,413.8 L612.9,414.2 L613.4,414.5 L613.9,414.9 L614.3,415.4 L614.9,414.9 L615.5,414.4 L616.2,414.0 L616.9,413.6 L617.7,413.3 L618.5,413.1 L619.3,412.9 L620.2,412.8 L621.0,412.8 L621.8,412.8 L622.7,412.9 L623.5,413.0 L624.3,413.2 L625.1,413.5 L625.8,413.8 L626.5,414.2 L627.2,414.7 L627.8,415.1 L628.3,415.7 L628.8,416.2 L629.2,416.9 L629.5,417.5 L629.8,418.1 L630.0,418.8 L630.7,419.0 L631.3,419.2 L631.9,419.5 L632.6,419.7 L633.1,420.1 L633.7,420.4 L634.2,420.8 L634.7,421.2 L635.2,421.7 L635.6,422.1 L635.9,422.6 L636.3,423.1 L636.6,423.7 L636.8,424.2 L637.0,424.8 L637.1,425.3 L637.2,425.9 L637.2,426.5 L637.2,427.0 L637.2,427.6 L637.1,428.2 L636.9,428.8 L636.7,429.3 L636.5,429.8 L637.1,430.6 L637.6,431.4 L638.1,432.2 L638.5,433.0 L638.7,433.9 L638.9,434.7 L639.0,435.6 L639.0,436.5 L638.9,437.4 L638.8,438.3 L638.5,439.2 L638.1,440.0 L637.7,440.8 L637.1,441.6 L636.5,442.3 L635.8,443.0 L635.1,443.6 L634.2,444.2 L633.3,444.7 L632.4,445.2 L631.4,445.6 L630.4,445.9 L629.4,446.1 L628.3,446.3 L628.3,447.1 L628.1,447.8 L627.9,448.6 L627.6,449.3 L627.2,450.0 L626.8,450.7 L626.3,451.4 L625.7,452.0 L625.0,452.5 L624.3,453.1 L623.6,453.5 L622.8,453.9 L621.9,454.3 L621.0,454.5 L620.1,454.8 L619.2,454.9 L618.3,455.0 L617.3,455.0 L616.4,454.9 L615.5,454.8 L614.6,454.6 L613.7,454.4 L612.8,454.1 L612.0,453.7 L611.6,454.6 L611.1,455.5 L610.5,456.3 L609.8,457.1 L609.1,457.8 L608.2,458.5 L607.3,459.1 L606.3,459.6 L605.3,460.0 L604.2,460.4 L603.0,460.7 L601.9,460.9 L600.7,461.0 L599.6,461.0 L598.4,460.9 L597.2,460.7 L596.1,460.4 L595.0,460.1 L594.0,459.7 L593.0,459.2 L592.0,458.6 L591.2,457.9 L590.4,457.2 L589.7,456.4 L588.9,456.8 L588.0,457.1 L587.1,457.4 L586.2,457.6 L585.3,457.8 L584.4,458.0 L583.5,458.1 L582.5,458.1 L581.6,458.1 L580.6,458.0 L579.7,457.9 L578.8,457.7 L577.9,457.5 L577.0,457.2 L576.1,456.9 L575.3,456.5 L574.5,456.1 L573.7,455.7 L573.0,455.2 L572.3,454.6 L571.7,454.1 L571.1,453.5 L570.5,452.8 L570.0,452.2 L569.2,452.2 L568.4,452.2 L567.6,452.1 L566.8,451.9 L566.0,451.7 L565.3,451.4 L564.6,451.1 L563.9,450.7 L563.3,450.2 L562.8,449.7 L562.3,449.2 L561.9,448.6 L561.6,448.0 L561.3,447.3 L561.1,446.7 L561.0,446.0 L561.0,445.3 L561.1,444.7 L561.3,444.0 L561.5,443.4 L561.8,442.8 L562.2,442.2 L562.7,441.6 L563.2,441.1 L562.5,440.7 L561.9,440.3 L561.3,439.8 L560.7,439.3 L560.3,438.7 L559.9,438.0 L559.6,437.4 L559.4,436.7 L559.3,436.0 L559.2,435.4 L559.3,434.7 L559.4,434.0 L559.6,433.3 L559.9,432.7 L560.3,432.0 L560.8,431.5 L561.3,430.9 L561.9,430.4 L562.6,430.0 L563.3,429.6 L564.0,429.3 L564.8,429.1 L565.6,428.9 L566.4,428.8Z" fill="#fff" stroke="#404040" stroke-width="1.5"/>
<path d="M568.0,441.8 L567.5,441.8 L567.0,441.8 L566.5,441.8 L566.0,441.7 L565.5,441.7 L565.1,441.6 L564.6,441.4 L564.2,441.3 L563.7,441.1 L563.3,440.9M572.1,451.5 L571.9,451.6 L571.7,451.7 L571.5,451.7 L571.3,451.8 L571.1,451.8 L570.9,451.8 L570.7,451.9 L570.5,451.9 L570.2,451.9 L570.0,452.0M589.7,456.2 L589.6,456.0 L589.4,455.8 L589.3,455.7 L589.1,455.5 L589.0,455.3 L588.9,455.1 L588.8,454.9 L588.7,454.7 L588.6,454.5 L588.5,454.3M612.5,451.4 L612.5,451.6 L612.4,451.8 L612.4,452.0 L612.4,452.2 L612.3,452.4 L612.3,452.7 L612.2,452.9 L612.1,453.1 L612.1,453.3 L612.0,453.5M622.3,438.2 L623.3,438.7 L624.3,439.3 L625.2,439.9 L626.0,440.7 L626.7,441.5 L627.2,442.3 L627.7,443.3 L628.0,444.2 L628.2,445.2 L628.3,446.2M636.4,429.7 L636.2,430.1 L636.0,430.4 L635.8,430.7 L635.5,431.0 L635.3,431.4 L635.0,431.6 L634.7,431.9 L634.4,432.2 L634.1,432.5 L633.7,432.7M630.0,418.7 L630.0,418.8 L630.1,418.9 L630.1,419.1 L630.1,419.2 L630.1,419.4 L630.1,419.5 L630.1,419.6 L630.1,419.8 L630.1,419.9 L630.1,420.1M612.9,417.0 L613.1,416.8 L613.2,416.6 L613.3,416.4 L613.4,416.3 L613.6,416.1 L613.7,415.9 L613.8,415.7 L614.0,415.5 L614.1,415.4 L614.3,415.2M600.1,417.9 L600.2,417.7 L600.2,417.5 L600.3,417.4 L600.4,417.2 L600.4,417.1 L600.5,416.9 L600.6,416.8 L600.6,416.6 L600.7,416.5 L600.8,416.3M585.1,418.4 L585.4,418.5 L585.6,418.7 L585.9,418.8 L586.1,418.9 L586.4,419.1 L586.6,419.2 L586.9,419.4 L587.1,419.6 L587.3,419.7 L587.5,419.9M566.9,430.2 L566.9,430.1 L566.8,429.9 L566.8,429.7 L566.7,429.6 L566.7,429.4 L566.6,429.3 L566.6,429.1 L566.6,429.0 L566.5,428.8 L566.5,428.6" fill="none" stroke="#404040" stroke-width="1.5"/>
<text id="t17" x="598.6" y="442.3" font-size="14" font-weight="normal" fill="#333" stroke="#333" stroke-width="0.196" text-anchor="middle" transform="matrix(1.0407,0,0,1.0431,-23.941,-19.717)" >互联网</text>
<rect x="300.2" y="480.9" width="95.8" height="44.5" rx="8" fill="#fff2cc" stroke="#222" stroke-width="2.4" stroke-dasharray="9.3 7.2"/>
<text id="t18" x="348.1" y="509" font-size="11.9" font-weight="bold" fill="#222" stroke="#222" stroke-width="0" text-anchor="middle" transform="matrix(1.0000,0,0,1.0012,-0.818,-1.892)" >能源供应单位</text>
<rect x="300.2" y="569.5" width="95.8" height="45.3" rx="8" fill="#fff2cc" stroke="#222" stroke-width="2.4" stroke-dasharray="9.3 7.2"/>
<text id="t19" x="348.1" y="590.5" font-size="11.9" font-weight="bold" fill="#222" stroke="#222" stroke-width="0" text-anchor="middle" transform="matrix(0.9982,0,0,0.8731,-0.269,72.965)" >其他行业主管</text>
<text id="t20" x="348.1" y="604.5" font-size="11.9" font-weight="bold" fill="#222" stroke="#222" stroke-width="0" text-anchor="middle" transform="matrix(0.9769,0,0,0.8955,7.363,62.044)" >部门系统</text>
<rect x="490" y="503.2" width="305" height="192.3" rx="27" fill="none" stroke="#1e1e1e" stroke-width="2.2" stroke-dasharray="7 5.2 2 5.2"/>
<use href="#fw" x="626.1" y="518.2"/>
<text id="t21" x="617.7" y="544.5" font-size="10" font-weight="normal" fill="#333" stroke="#333" stroke-width="0.14" text-anchor="middle" transform="matrix(1.0234,0,0,0.9248,-14.415,40.080)" >防火墙</text>
<line x1="639.6" y1="533" x2="639.6" y2="571" stroke="#333" stroke-width="1.4"/>
<line x1="561" y1="578.5" x2="627.7" y2="578.5" stroke="#333" stroke-width="1.4"/>
<line x1="640.4" y1="589.5" x2="640.4" y2="614" stroke="#333" stroke-width="1.4"/>
<line x1="653" y1="577.5" x2="736" y2="549" stroke="#333" stroke-width="1.3"/>
<line x1="653" y1="578.5" x2="737.5" y2="597" stroke="#333" stroke-width="1.3"/>
<use href="#dev" x="627.7" y="569"/>
<use href="#person" x="530" y="560"/>
<text id="t22" x="523.3" y="597" font-size="10" font-weight="normal" fill="#333" stroke="#333" stroke-width="0.14" text-anchor="middle" transform="matrix(0.9803,0,0,0.9972,10.662,1.511)" >手工填报</text>
<text id="t23" x="605" y="595" font-size="10" font-weight="normal" fill="#333" stroke="#333" stroke-width="0.14" text-anchor="middle" transform="matrix(0.9331,0,0,0.8883,40.357,66.395)" >能耗在线</text>
<text id="t24" x="604.2" y="605.5" font-size="10" font-weight="normal" fill="#333" stroke="#333" stroke-width="0.14" text-anchor="middle" transform="matrix(0.9747,0,0,0.9357,15.733,38.448)" >监测端设备</text>
<use href="#rack" x="735.9" y="540.2"/>
<text id="t25" x="745.3" y="573" font-size="10" font-weight="normal" fill="#333" stroke="#333" stroke-width="0.14" text-anchor="middle" transform="matrix(0.9679,0,0,1.0127,24.206,-7.747)" >工控系统</text>
<use href="#dbi" x="737.9" y="593.5"/>
<text id="t26" x="747.5" y="625" font-size="10" font-weight="normal" fill="#333" stroke="#333" stroke-width="0.14" text-anchor="middle" transform="matrix(1.0067,0,0,0.9559,-4.974,27.682)" >生产监控</text>
<text id="t27" x="750.9" y="635.5" font-size="10" font-weight="normal" fill="#333" stroke="#333" stroke-width="0.14" text-anchor="middle" transform="matrix(0.9614,0,0,0.9738,29.361,16.372)" >信息管理系统</text>
<use href="#gw" x="627.3" y="612.5"/>
<text id="t28" x="683.8" y="635.8" font-size="10" font-weight="normal" fill="#333" stroke="#333" stroke-width="0.14" text-anchor="middle" transform="matrix(0.9588,0,0,1.0073,28.504,-4.855)" >数据采集网关</text>
<line x1="638.5" y1="635.6" x2="598.9" y2="657.3" stroke="#aaa" stroke-width="1" stroke-dasharray="3 2"/>
<line x1="638.5" y1="635.6" x2="625" y2="655" stroke="#aaa" stroke-width="1" stroke-dasharray="3 2"/>
<line x1="638.5" y1="635.6" x2="652" y2="653.6" stroke="#aaa" stroke-width="1" stroke-dasharray="3 2"/>
<line x1="638.5" y1="635.6" x2="676.7" y2="661" stroke="#aaa" stroke-width="1" stroke-dasharray="3 2"/>
<use href="#m1" x="584" y="653.6"/>
<use href="#m2" x="612.4" y="652.5"/>
<use href="#m3" x="649.7" y="652.8"/>
<use href="#m4" x="676.4" y="655.3"/>
<text id="t29" x="638" y="687" font-size="9.5" font-weight="normal" fill="#333" stroke="#333" stroke-width="0.133" text-anchor="middle" transform="matrix(1.0166,0,0,1.0671,-10.251,-46.736)" >智能计量表计</text>
<text id="t30" x="22.5" y="683" font-size="13.5" font-weight="normal" fill="#333" stroke="#333" stroke-width="0.189" text-anchor="start" transform="matrix(1.1035,0,0,1.0643,-2.984,-44.016)" >图例</text>
<circle cx="57.5" cy="675.9" r="1.1" fill="#444"/><circle cx="57.5" cy="682.1" r="1.1" fill="#444"/>
<rect x="68.6" y="671.7" width="54.9" height="13" rx="3" fill="none" stroke="#2e2e2e" stroke-width="1.9" stroke-dasharray="6.5 5.5 1.5 5.5" stroke-dashoffset="-4"/>
<text id="t31" x="133.5" y="683" font-size="14" font-weight="normal" fill="#333" stroke="#333" stroke-width="0.196" text-anchor="start" transform="matrix(1.0398,0,0,0.9137,-5.963,58.114)" >本系统范围</text>
</svg>
</body></html>
